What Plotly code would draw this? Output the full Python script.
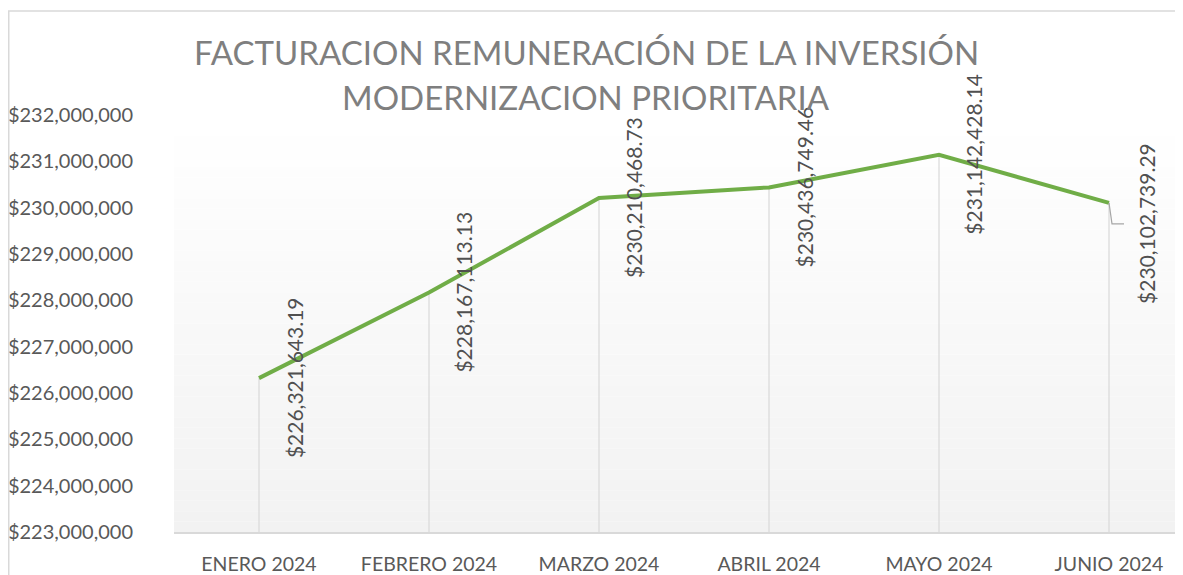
import plotly.graph_objects as go

meses = ["ENERO 2024", "FEBRERO 2024", "MARZO 2024", "ABRIL 2024", "MAYO 2024", "JUNIO 2024"]
facturacion = [226321643.19, 228167113.13, 230210468.73, 230436749.46, 231142428.14, 230102739.29]
y_ticks = list(range(223000000, 232000001, 1000000))
titulo = ["FACTURACION REMUNERACIÓN DE LA INVERSIÓN", "MODERNIZACION PRIORITARIA"]

Y_MIN, Y_MAX = 223000000, 232000000
OFF = 8  # page body margin
W, H = 1183, 575
L, T = 174 - OFF, 115 - OFF
B = H - (532 - OFF)
plot_h = H - T - B
plot_w = W - L
FONT = "Lato"

fig = go.Figure()

# drop lines (vertical lines from each point to the axis)
drop_x, drop_y = [], []
for m, v in zip(meses, facturacion):
    drop_x += [m, m, None]
    drop_y += [Y_MIN, v, None]
fig.add_trace(go.Scatter(
    x=drop_x, y=drop_y, mode="lines",
    line=dict(color="#d9d9d9", width=1.2),
    hoverinfo="skip", showlegend=False,
))

fig.add_trace(go.Scatter(
    x=meses, y=facturacion, mode="lines",
    line=dict(color="#70AD47", width=4),
    showlegend=False,
))

# data labels, rotated, to the right of each point
for i, (m, v) in enumerate(zip(meses, facturacion)):
    last = i == len(meses) - 1
    fig.add_annotation(
        x=m, y=v, xref="x", yref="y",
        text=f"${v:,.2f}", textangle=-90, showarrow=False,
        xshift=38 if last else 35, yshift=-21 if last else 0,
        font=dict(family=FONT, size=21, color="#505050"),
    )

# leader line on the last label
fig.add_shape(
    type="path", xref="x", yref="y",
    xsizemode="pixel", ysizemode="pixel",
    xanchor=meses[-1], yanchor=facturacion[-1],
    path="M 0 0 L 3 -21 L 15 -21",
    line=dict(color="#a6a6a6", width=1.2),
)

# plot area gradient (white -> light grey)
n = 40
for k in range(n):
    t = (k + 0.5) / n
    c = int(round(242 + (255 - 242) * t))
    fig.add_shape(
        type="rect", xref="paper", yref="paper",
        x0=0, x1=1, y0=k / n, y1=(k + 1) / n,
        fillcolor=f"rgb({c},{c},{c})", line=dict(width=0), layer="below",
    )

# chart area border
fig.add_shape(
    type="rect", xref="paper", yref="paper",
    x0=(0.75 - L) / plot_w, x1=1.2,
    y0=-0.3, y1=1 + (T - (11 - OFF)) / plot_h,
    line=dict(color="#d9d9d9", width=1.5), fillcolor="rgba(0,0,0,0)",
)

# title
for line, ypix in zip(titulo, [52, 97]):
    fig.add_annotation(
        x=(586 - OFF - L) / plot_w, y=(H - B - (ypix - OFF)) / plot_h,
        xref="paper", yref="paper", text=line, showarrow=False,
        xanchor="center", yanchor="middle",
        font=dict(family=FONT, size=33, color="#7f7f7f"),
    )

fig.update_layout(
    width=W, height=H,
    margin=dict(l=L, r=0, t=T, b=B, pad=0),
    paper_bgcolor="white",
    plot_bgcolor="rgba(0,0,0,0)",
    showlegend=False,
    xaxis=dict(
        type="category", range=[-0.5, -0.5 + plot_w / 170],
        showgrid=False, zeroline=False,
        showline=True, linecolor="#d9d9d9", linewidth=1.5,
        ticks="", ticklabelstandoff=14,
        tickfont=dict(family=FONT, size=19.5, color="#595959"),
    ),
    yaxis=dict(
        range=[Y_MIN, Y_MAX], tickvals=y_ticks,
        ticktext=[f"${v:,.0f}" for v in y_ticks],
        showgrid=False, zeroline=False, showline=False,
        ticks="", ticklabelstandoff=40,
        tickfont=dict(family=FONT, size=20, color="#595959"),
    ),
)

fig.write_html("out.html")
